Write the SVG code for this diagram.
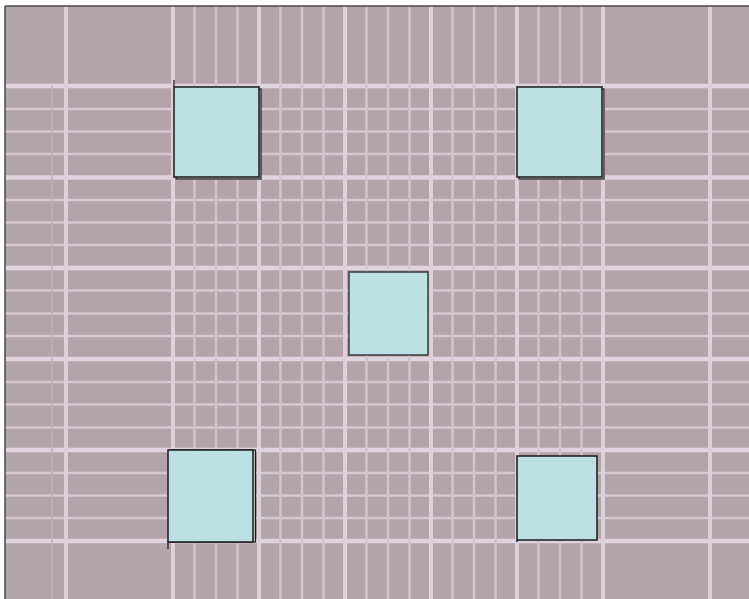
<svg xmlns="http://www.w3.org/2000/svg" width="749" height="599" viewBox="0 0 749 599">
<defs>
<filter id="soft" x="0" y="0" width="1" height="1"><feGaussianBlur stdDeviation="0.7"/></filter>
</defs>
<style>
.v{stroke:#d2c3cc;stroke-width:2.5}
.vb{stroke:#ddd0da;stroke-width:4}
.h{stroke:#d6c8d1;stroke-width:2.5}
.hb{stroke:#dfd3de;stroke-width:4.5}
.f{stroke:#bfb1b8;stroke-width:1.5}
.sq{fill:#bde0e3;stroke:#1a1a1a;stroke-width:1.5}
.sh{fill:none;stroke:#1a1a1a;stroke-width:1.2}
</style>
<rect x="0" y="0" width="749" height="599" fill="#ffffff"/>
<rect x="5" y="6" width="744" height="593" fill="#b2a4a9"/>
<g id="grid" filter="url(#soft)">
<g id="horizontal">
<line class="hb" x1="5" y1="86" x2="749" y2="86"/>
<line class="h" x1="5" y1="109" x2="749" y2="109"/>
<line class="h" x1="5" y1="131.5" x2="749" y2="131.5"/>
<line class="h" x1="5" y1="154" x2="749" y2="154"/>
<line class="hb" x1="5" y1="177.5" x2="749" y2="177.5"/>
<line class="h" x1="5" y1="200" x2="749" y2="200"/>
<line class="h" x1="5" y1="222.5" x2="749" y2="222.5"/>
<line class="h" x1="5" y1="245" x2="749" y2="245"/>
<line class="hb" x1="5" y1="268" x2="749" y2="268"/>
<line class="h" x1="5" y1="290.5" x2="749" y2="290.5"/>
<line class="h" x1="5" y1="313.5" x2="749" y2="313.5"/>
<line class="h" x1="5" y1="336" x2="749" y2="336"/>
<line class="hb" x1="5" y1="359" x2="749" y2="359"/>
<line class="h" x1="5" y1="382" x2="749" y2="382"/>
<line class="h" x1="5" y1="404.5" x2="749" y2="404.5"/>
<line class="h" x1="5" y1="427.5" x2="749" y2="427.5"/>
<line class="hb" x1="5" y1="450" x2="749" y2="450"/>
<line class="h" x1="5" y1="473" x2="749" y2="473"/>
<line class="h" x1="5" y1="495.5" x2="749" y2="495.5"/>
<line class="h" x1="5" y1="518" x2="749" y2="518"/>
<line class="hb" x1="5" y1="541" x2="749" y2="541"/>
</g>
<g id="vertical">
<line class="f" x1="52" y1="86" x2="52" y2="599"/>
<line class="vb" x1="66" y1="6" x2="66" y2="599"/>
<line class="vb" x1="710" y1="6" x2="710" y2="599"/>
<line class="vb" x1="173" y1="6" x2="173" y2="599"/>
<line class="v" x1="194.5" y1="6" x2="194.5" y2="599"/>
<line class="v" x1="216" y1="6" x2="216" y2="599"/>
<line class="v" x1="237.5" y1="6" x2="237.5" y2="599"/>
<line class="vb" x1="259" y1="6" x2="259" y2="599"/>
<line class="v" x1="280.5" y1="6" x2="280.5" y2="599"/>
<line class="v" x1="302" y1="6" x2="302" y2="599"/>
<line class="v" x1="323.5" y1="6" x2="323.5" y2="599"/>
<line class="vb" x1="345" y1="6" x2="345" y2="599"/>
<line class="v" x1="366.5" y1="6" x2="366.5" y2="599"/>
<line class="v" x1="388" y1="6" x2="388" y2="599"/>
<line class="v" x1="409.5" y1="6" x2="409.5" y2="599"/>
<line class="vb" x1="431" y1="6" x2="431" y2="599"/>
<line class="v" x1="452.5" y1="6" x2="452.5" y2="599"/>
<line class="v" x1="474" y1="6" x2="474" y2="599"/>
<line class="v" x1="495.5" y1="6" x2="495.5" y2="599"/>
<line class="vb" x1="517" y1="6" x2="517" y2="599"/>
<line class="v" x1="538.5" y1="6" x2="538.5" y2="599"/>
<line class="v" x1="560" y1="6" x2="560" y2="599"/>
<line class="v" x1="581.5" y1="6" x2="581.5" y2="599"/>
<line class="vb" x1="603" y1="6" x2="603" y2="599"/>
</g>
</g>
<g id="square-top-left">
<rect x="176" y="89" width="85" height="90" fill="#c8c8c8" stroke="#1a1a1a" stroke-width="1.2"/>
<rect class="sq" x="174" y="87" width="85" height="90"/>
<line class="sh" x1="174" y1="80" x2="174" y2="87"/>
</g>
<g id="square-top-right">
<rect x="519" y="89" width="85" height="90" fill="#c8c8c8" stroke="#1a1a1a" stroke-width="1.2"/>
<rect class="sq" x="517" y="87" width="85" height="90"/>
</g>
<g id="square-center">
<rect class="sq" x="349" y="272" width="79" height="83" style="stroke:#3a3a3a"/>
</g>
<g id="square-bottom-left">
<rect x="170" y="450" width="85.5" height="92" fill="#c8c8c8" stroke="#1a1a1a" stroke-width="1.2"/>
<rect class="sq" x="168" y="450" width="85" height="92"/>
<line class="sh" x1="168" y1="542" x2="168" y2="549"/>
</g>
<g id="square-bottom-right">
<rect class="sq" x="517" y="456" width="80" height="84"/>
<line class="sh" x1="517" y1="540" x2="517" y2="542"/>
</g>
<g id="frame">
<line x1="5" y1="6" x2="749" y2="6" stroke="#4a4a4a" stroke-width="1.5"/>
<line x1="5" y1="6" x2="5" y2="599" stroke="#4a4a4a" stroke-width="1.5"/>
</g>
</svg>
